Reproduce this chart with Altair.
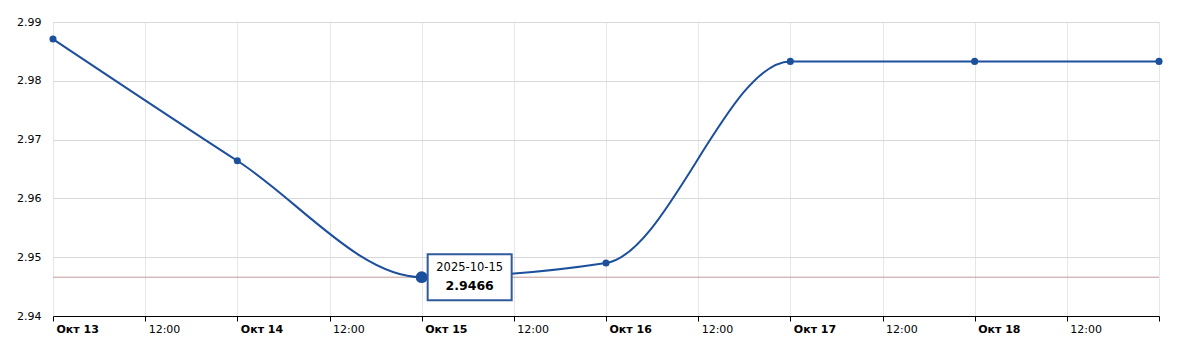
import altair as alt
import pandas as pd

dates = ["2025-10-13T00:00:00Z", "2025-10-14T00:00:00Z", "2025-10-15T00:00:00Z",
         "2025-10-16T00:00:00Z", "2025-10-17T00:00:00Z", "2025-10-18T00:00:00Z",
         "2025-10-19T00:00:00Z"]
rates = [2.9871, 2.9664, 2.9466, 2.9490, 2.9833, 2.9833, 2.9833]
y_ticks = [2.94, 2.95, 2.96, 2.97, 2.98, 2.99]
tick_days = [13, 13, 14, 14, 15, 15, 16, 16, 17, 17, 18, 18, 19]
tick_hours = [0, 12, 0, 12, 0, 12, 0, 12, 0, 12, 0, 12, 0]
hover_date = "2025-10-15T00:00:00Z"
hover_value = 2.9466
hover_label = "2025-10-15"
hover_text = "2.9466"

df = pd.DataFrame({"date": dates, "rate": rates})
hover = pd.DataFrame({"date": [hover_date], "rate": [hover_value],
                      "label": [hover_label], "text": [hover_text]})

LINE = "#1c4f9c"
FONT = "DejaVu Sans"

x_vals = [alt.DateTime(year=2025, month=10, date=d, hours=h, utc=True)
          for d, h in zip(tick_days, tick_hours)]

x_enc = alt.X("date:T",
              scale=alt.Scale(type="utc",
                              domain=[alt.DateTime(year=2025, month=10, date=13, utc=True),
                                      alt.DateTime(year=2025, month=10, date=19, utc=True)]),
              axis=alt.Axis(values=x_vals, title=None,
                            labelExpr="utchours(datum.value) == 0 ? (utcdate(datum.value) == 19 ? '' : 'Окт ' + utcdate(datum.value)) : '12:00'",
                            labelFontWeight={"condition": {"test": "utchours(datum.value) == 0", "value": "bold"}, "value": "normal"},
                            labelAlign="left", labelPadding=2, labelOffset=3,
                            labelFont=FONT, labelFontSize=11, labelColor="#000",
                            domainColor="#000", tickColor="#000", tickSize=5,
                            gridColor="#e6e6e6", grid=True, labelOverlap=False,
                            labelBound=False, labelFlush=False))
y_enc = alt.Y("rate:Q",
              scale=alt.Scale(domain=[2.94, 2.99], nice=False, zero=False),
              axis=alt.Axis(values=y_ticks, format=".2f", title=None, domain=False,
                            ticks=False, labelPadding=12, labelFont=FONT,
                            labelFontSize=11, labelColor="#000",
                            gridColor="#d8d8d8"))

base = alt.Chart(df)

line = base.mark_line(color=LINE, strokeWidth=2, interpolate="monotone").encode(x=x_enc, y=y_enc)
points = base.mark_circle(color=LINE, size=50, opacity=1).encode(x="date:T", y="rate:Q")

hchart = alt.Chart(hover)
rule = hchart.mark_rule(color="#c29a9a", strokeWidth=1).encode(y="rate:Q")
big = hchart.mark_circle(color=LINE, size=140, opacity=1).encode(x="date:T", y="rate:Q")
box = hchart.mark_rect(fill="white", stroke="#2f5b9c", strokeWidth=2,
                       xOffset=6, x2Offset=90, yOffset=-23, y2Offset=23).encode(
    x="date:T", x2="date:T", y="rate:Q", y2="rate:Q")
t1 = hchart.mark_text(font=FONT, fontSize=11.5, color="#000", dx=48, dy=-9).encode(
    x="date:T", y="rate:Q", text="label:N")
t2 = hchart.mark_text(font=FONT, fontSize=12.5, fontWeight="bold", color="#000", dx=48, dy=9).encode(
    x="date:T", y="rate:Q", text="text:N")

chart = alt.layer(rule, line, points, big, box, t1, t2).properties(
    width=1106, height=294,
    padding={"left": 53, "top": 22, "right": 18, "bottom": 30},
    autosize="none",
    background="white",
).configure_view(stroke=None)

chart.save("out.html", embed_options={"renderer": "svg", "actions": False})
